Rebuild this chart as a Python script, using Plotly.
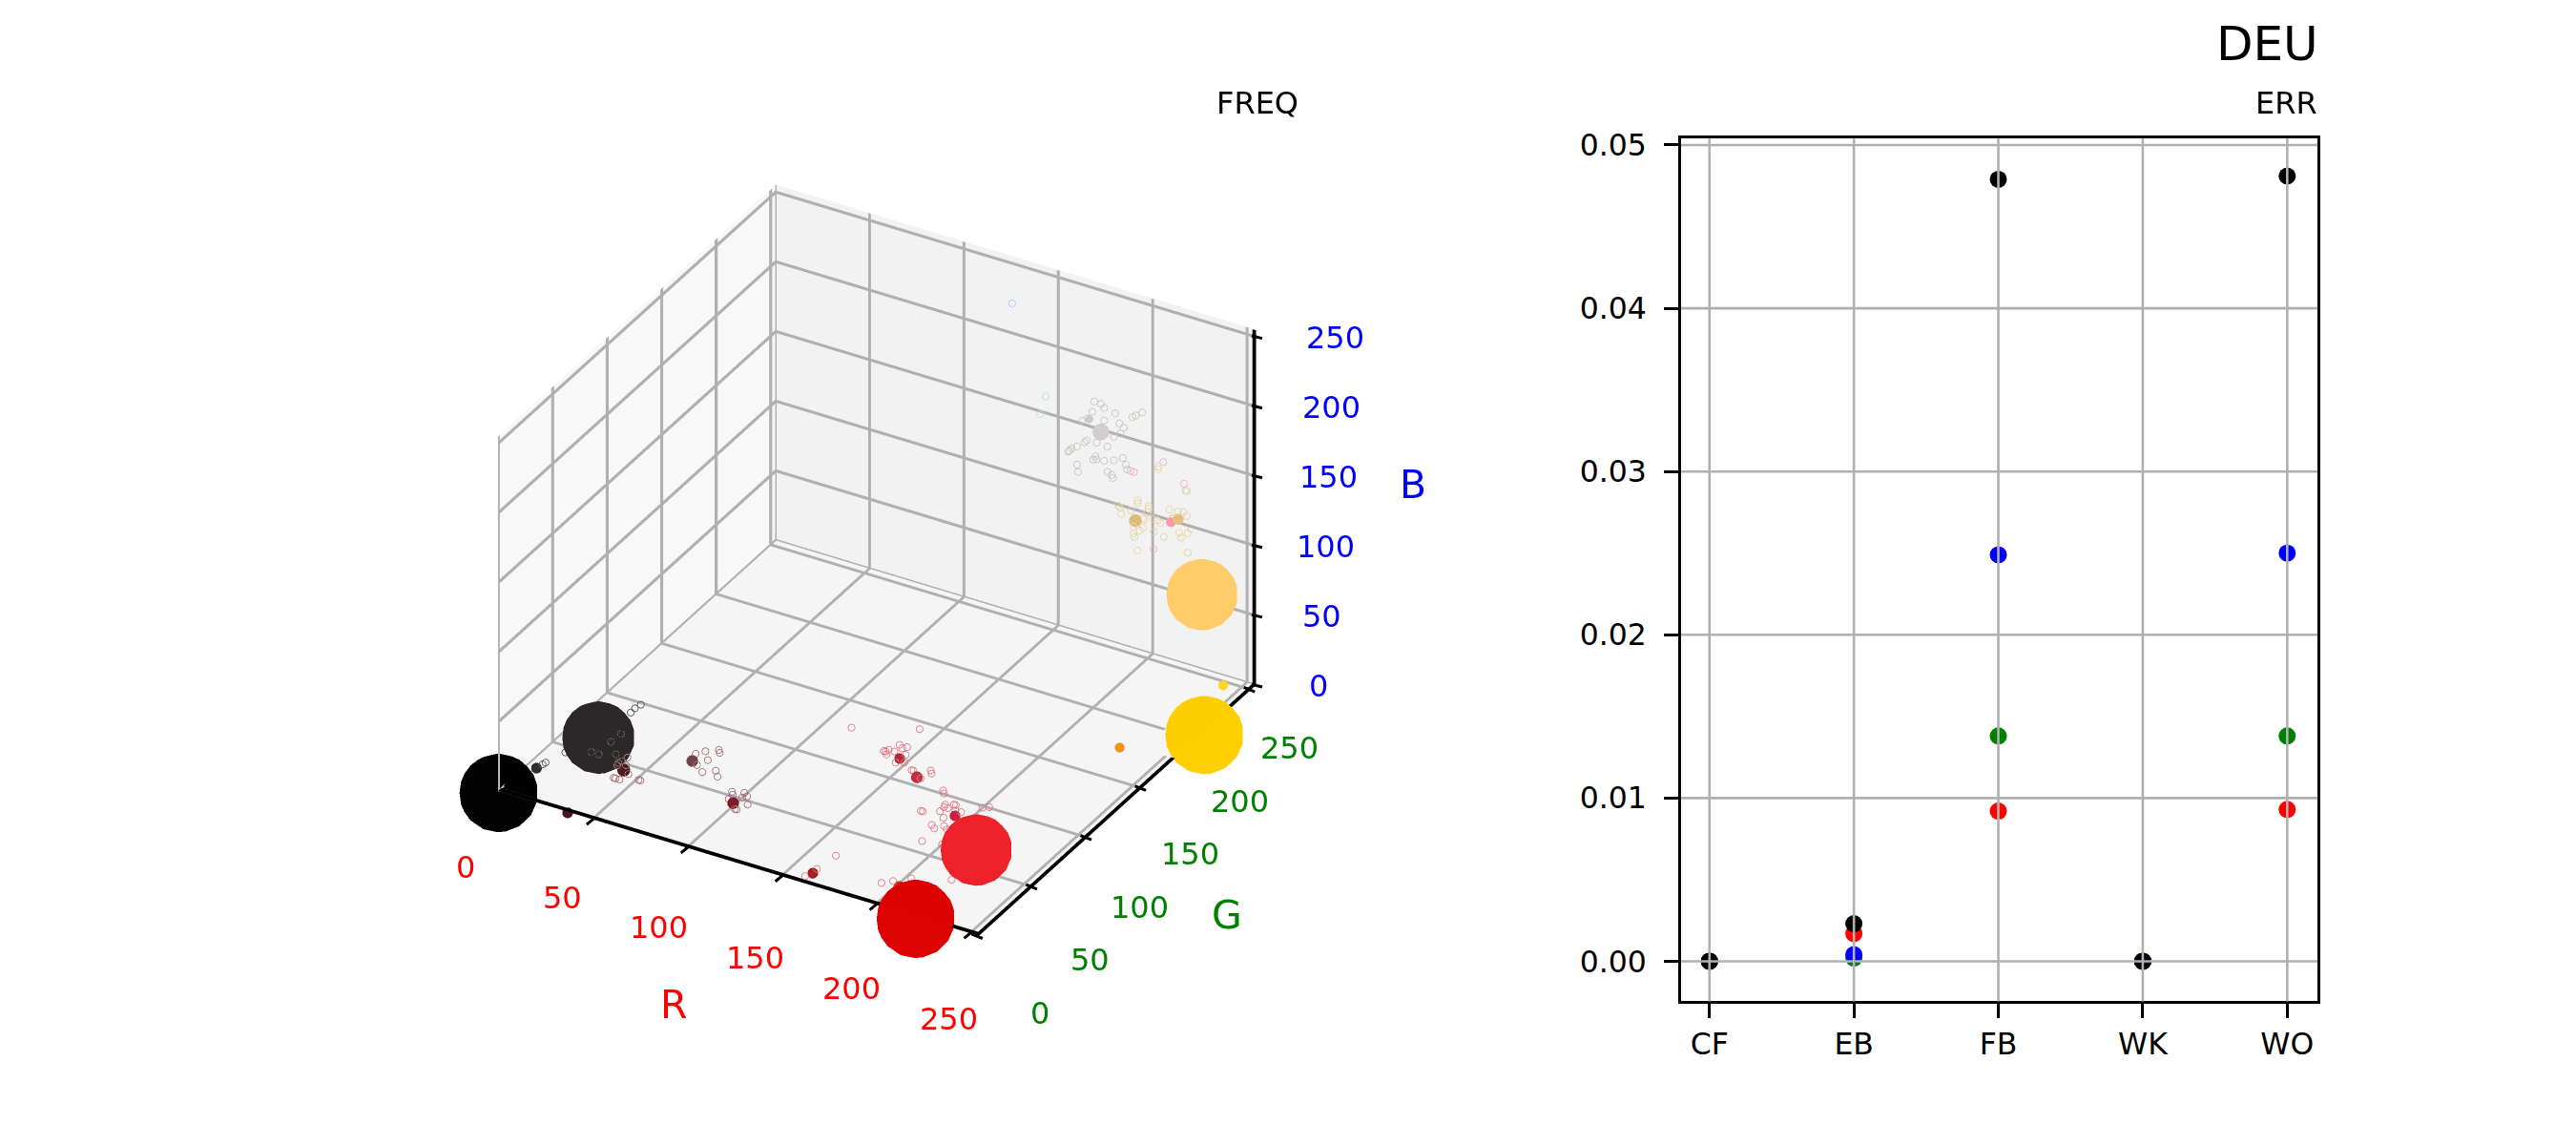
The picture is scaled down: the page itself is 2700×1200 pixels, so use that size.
import math
import plotly.graph_objects as go

# ---------- 3D panel data (FREQ) ----------
ball_r = [0, 35, 221, 255, 255, 237]
ball_g = [0, 31, 0, 206, 204, 28]
ball_b = [0, 32, 0, 0, 102, 36]
ball_freq = [80, 74, 80, 80, 73, 73]
ball_colors = ["#000000", "#2a2627", "#dd0000", "#ffce00", "#fecd69", "#ee2029"]

med_r = [13, 37, 54, 84, 112, 164, 201, 180, 192, 218, 240, 255, 204, 194, 220, 255, 245]
med_g = [13, 0, 22, 33, 22, 5, 20, 57, 52, 42, 155, 224, 200, 207, 204, 176, 200]
med_b = [13, 0, 22, 33, 22, 5, 0, 57, 52, 42, 20, 22, 200, 200, 140, 173, 154]
med_freq = [11, 11, 13, 12, 12, 11, 11, 11, 12, 11, 10, 10, 17, 8, 13, 10, 11]
med_colors = ["#2c2c2c", "#4a1018", "#4a1a1e", "#6e4440", "#7f1a24", "#a81c1c", "#c42c14", "#b12738",
              "#bb2c3e", "#c9213c", "#f09114", "#ffd71e", "#d2ccd0", "#c4cfca", "#dcbb78",
              "#ff98a8", "#e6c07a"]

dark_r = [48, 46, 45, 23, 26, 28, 30, 16, 15, 42, 45, 47, 39, 35]
dark_g = [48, 46, 44, 22, 26, 27, 29, 16, 15, 31, 35, 27, 25, 25]
dark_b = [48, 46, 44, 22, 26, 27, 29, 16, 15, 31, 35, 27, 25, 25]

maroon_r = [84, 88, 94, 95, 91, 87, 91, 97, 99, 109, 110, 115, 117, 109, 109, 115, 119, 114, 115,
            50, 51, 54, 50, 57, 51, 52, 54, 63, 64, 53]
maroon_g = [36, 38, 40, 39, 35, 32, 30, 32, 30, 26, 25, 27, 26, 23, 23, 25, 23, 20, 20,
            24, 25, 24, 23, 21, 18, 18, 18, 20, 20, 27]
maroon_b = [36, 38, 40, 39, 35, 32, 30, 32, 30, 26, 25, 27, 26, 23, 23, 25, 23, 20, 20,
            24, 25, 24, 23, 21, 18, 18, 18, 20, 20, 27]

red_r = [151, 183, 171, 172, 173, 173, 176, 177, 179, 181, 182, 183, 179, 188, 189, 197, 198, 194,
         207, 208, 211, 211, 213, 215, 216, 217, 210, 201, 202, 213, 209, 211, 215, 217, 208, 218,
         229, 232, 220, 230, 211, 203, 198, 165, 161, 171]
red_g = [63, 70, 58, 58, 59, 57, 59, 62, 61, 62, 59, 56, 55, 54, 54, 56, 55, 52,
         50, 49, 45, 44, 44, 46, 46, 44, 42, 40, 40, 40, 36, 35, 37, 36, 29, 30,
         48, 49, 44, 18, 14, 11, 9, 7, 3, 14]
red_b = [63, 70, 58, 58, 59, 57, 59, 62, 61, 62, 59, 56, 55, 54, 54, 56, 55, 52,
         50, 49, 45, 44, 44, 46, 46, 44, 42, 40, 40, 40, 36, 35, 37, 36, 29, 30,
         48, 49, 44, 18, 14, 11, 9, 7, 3, 14]

grey_r = [204] * 36
grey_g = [194, 200, 203, 192, 213, 229, 232, 238, 188, 183, 203, 217, 221, 218, 212, 206, 196, 187,
          185, 178, 173, 171, 170, 195, 193, 196, 203, 212, 220, 223, 224, 178, 179, 206, 210, 211]
grey_b = [226, 220, 215, 220, 204, 190, 189, 187, 218, 220, 206, 194, 188, 186, 188, 185, 195, 203,
          203, 205, 207, 207, 207, 186, 185, 183, 177, 171, 167, 160, 156, 192, 186, 167, 162, 159]

tan_r = [220] * 37
tan_g = [225, 225, 250, 251, 206, 206, 216, 216, 188, 190, 191, 200, 215, 211, 220, 224, 227, 211,
         208, 202, 221, 202, 203, 235, 243, 248, 238, 238, 251, 255, 252, 246, 244, 252, 206, 212, 230]
tan_b = [164, 162, 129, 128, 153, 151, 142, 140, 162, 159, 154, 150, 138, 137, 130, 126, 122, 130,
         130, 137, 120, 132, 129, 126, 119, 115, 118, 117, 110, 98, 97, 98, 103, 83, 117, 135, 110]

pink_r = [255, 255, 255, 255, 255]
pink_g = [139, 142, 169, 188, 160]
pink_b = [236, 233, 221, 192, 165]

green_r = [169, 166]
green_g = [210, 210]
green_b = [204, 190]

blue_r = [146]
blue_g = [219]
blue_b = [255]

open_groups = [
    (dark_r, dark_g, dark_b, "#4a4040"),
    (maroon_r, maroon_g, maroon_b, "#a0646a"),
    (red_r, red_g, red_b, "#e07078"),
    (grey_r, grey_g, grey_b, "#c6c2bd"),
    (tan_r, tan_g, tan_b, "#e8d2a4"),
    (pink_r, pink_g, pink_b, "#f4aabe"),
    (green_r, green_g, green_b, "#bedcd2"),
    (blue_r, blue_g, blue_b, "#b4c4fa"),
]

tick3d = [0, 50, 100, 150, 200, 250]
TOP = 255

# ---------- right panel data (ERR) ----------
codes = ["CF", "EB", "FB", "WK", "WO"]
err_red = [0, 0.0017, 0.0092, 0, 0.0093]
err_green = [0, 0.0002, 0.0138, 0, 0.0138]
err_blue = [0, 0.0004, 0.0249, 0, 0.0250]
err_black = [0, 0.0023, 0.0479, 0, 0.0481]
err_ticks = [0, 0.01, 0.02, 0.03, 0.04, 0.05]

SIZE_K = 1.19
OPEN_SIZE = 4.5
FONT = "DejaVu Sans"
GRID = "#b0b0b0"
FLAT = dict(ambient=1, diffuse=0, specular=0, roughness=1, fresnel=0)
EYE_DIST = 5.075
ELEV = math.radians(31.5)
AZIM = math.radians(-60)
CENTER_Z = -0.028
LIFT = 0.3
SOLID = 0.99

fig = go.Figure()


class Ribbons:
    """Flat rectangles in a pane plane: WebGL lines stay 1px wide in this browser."""

    def __init__(self):
        self.x, self.y, self.z, self.i, self.j, self.k = [], [], [], [], [], []

    def quad(self, p, q, w):
        n = len(self.x)
        for a, b, c in [p, q, (q[0] + w[0], q[1] + w[1], q[2] + w[2]), (p[0] + w[0], p[1] + w[1], p[2] + w[2])]:
            self.x.append(a); self.y.append(b); self.z.append(c)
        self.i += [n, n]; self.j += [n + 1, n + 2]; self.k += [n + 2, n + 3]

    def trace(self, color):
        return go.Mesh3d(x=self.x, y=self.y, z=self.z, i=self.i, j=self.j, k=self.k, color=color,
                         flatshading=True, lighting=FLAT, hoverinfo="skip", showscale=False)


grid = Ribbons()
for t in tick3d:
    # floor: gridlines stop where the gold ball sits on top of them
    if t == 250:
        grid.quad((t - 0.8, 0, LIFT), (t - 0.8, 180, LIFT), (1.6, 0, 0))
        grid.quad((t - 0.8, 232, LIFT), (t - 0.8, TOP, LIFT), (1.6, 0, 0))
    else:
        grid.quad((t - 0.8, 0, LIFT), (t - 0.8, TOP, LIFT), (1.6, 0, 0))
    if t == 200:
        grid.quad((0, t - 1.1, LIFT), (238, t - 1.1, LIFT), (0, 2.2, 0))
    elif t != 0:
        grid.quad((0, t - 1.1, LIFT), (TOP, t - 1.1, LIFT), (0, 2.2, 0))
    # left wall (R = 0)
    grid.quad((LIFT, t - 1.4, 0), (LIFT, t - 1.4, TOP), (0, 2.8, 0))
    grid.quad((LIFT, 0, t - 1.45), (LIFT, TOP, t - 1.45), (0, 0, 2.9))
    # back wall (G = max)
    grid.quad((t - 0.75, TOP - LIFT, 0), (t - 0.75, TOP - LIFT, TOP), (1.5, 0, 0))
    grid.quad((0, TOP - LIFT, t - 1.1), (TOP, TOP - LIFT, t - 1.1), (0, 0, 2.2))
fig.add_trace(grid.trace(GRID))

# black axis lines, with gaps where the nearest big balls sit on top of them
spines = Ribbons()
spines.quad((0, 0, 0.6), (202, 0, 0.6), (0, 2.9, 0))
spines.quad((240, 0, 0.6), (TOP, 0, 0.6), (0, 2.9, 0))
spines.quad((TOP - 2.1, 0, 0.6), (TOP - 2.1, 180, 0.6), (2.1, 0, 0))
spines.quad((TOP - 2.1, 232, 0.6), (TOP - 2.1, TOP, 0.6), (2.1, 0, 0))
spines.quad((TOP - 2, TOP - 0.6, 0), (TOP - 2, TOP - 0.6, TOP), (2, 0, 0))
fig.add_trace(spines.trace("#000000"))

for r, g, b, c in open_groups:
    fig.add_trace(go.Scatter3d(x=r, y=g, z=b, mode="markers", hoverinfo="skip",
                               marker=dict(size=OPEN_SIZE, symbol="circle-open", color=c, opacity=1)))
fig.add_trace(go.Scatter3d(x=med_r, y=med_g, z=med_b, mode="markers", hoverinfo="skip",
                           marker=dict(size=[s * SIZE_K for s in med_freq], color=med_colors, opacity=SOLID,
                                       line=dict(width=0))))
fig.add_trace(go.Scatter3d(x=ball_r, y=ball_g, z=ball_b, mode="markers", hoverinfo="skip",
                           marker=dict(size=[s * SIZE_K for s in ball_freq], color=ball_colors, opacity=SOLID,
                                       line=dict(width=0))))

xpos = list(range(len(codes)))
for vals, col in [(err_red, "#ff0000"), (err_green, "#008000"), (err_blue, "#0000ff"), (err_black, "#000000")]:
    fig.add_trace(go.Scatter(x=xpos, y=vals, mode="markers", hoverinfo="skip",
                             marker=dict(size=18, color=col, line=dict(width=0))))


def ax3d(bg):
    return dict(
        title=dict(text=""), range=[0, TOP], autorange=False,
        showticklabels=False, ticks="", showline=False, showgrid=False,
        zeroline=False, showspikes=False,
        showbackground=True, backgroundcolor=bg,
    )


def label3d(x, y, z, text, color, size, dx, dy):
    return dict(x=x, y=y, z=z, text=text, showarrow=False, xshift=dx, yshift=-dy,
                xanchor="center", yanchor="middle",
                font=dict(family=FONT, size=size, color=color))


def tick_mark(x, y, z, sx, sy, ax, ay):
    return dict(x=x, y=y, z=z, text=" ", showarrow=True, arrowhead=0, arrowwidth=3, arrowcolor="#000000",
                ax=ax, ay=ay, xshift=sx, yshift=-sy, standoff=0, startstandoff=0)


scene_ann = []
for t in tick3d:
    f = t / 250
    scene_ann.append(label3d(t, 0, 0, str(t), "#ff0000", 32, -33.7 + 12 * f, 79 + 10 * f))
    scene_ann.append(label3d(TOP, t, 0, str(t), "#008000", 32, 64.3 - 24 * f, 80 - 19 * f))
    scene_ann.append(label3d(TOP, TOP, t, str(t), "#0000ff", 32, 65.3 + 17 * f, 1))
    if t != 0:  # hidden behind the black ball
        scene_ann.append(tick_mark(t, 0, 0, -5.5, 4.5, 11, -9))
    if t != 200:  # hidden behind the gold ball
        scene_ann.append(tick_mark(TOP, t, 0, -7.5, -3, 15, 6))
    scene_ann.append(tick_mark(TOP, TOP, t, -5, -1, 14.5, 3.5))
scene_ann.append(label3d(125, 0, 0, "R", "#ff0000", 41, -62, 149))
scene_ann.append(label3d(TOP, 125, 0, "G", "#008000", 41, 117, 106))
scene_ann.append(label3d(TOP, TOP, 125, "B", "#0000ff", 41, 164, -28))

shapes = []
for t in err_ticks:
    shapes.append(dict(type="line", xref="x domain", yref="y", x0=0, x1=1, y0=t, y1=t,
                       line=dict(color=GRID, width=2.6), layer="above"))
for p in xpos:
    shapes.append(dict(type="line", xref="x", yref="y domain", x0=p, x1=p, y0=0, y1=1,
                       line=dict(color=GRID, width=2.6), layer="above"))

fig.update_layout(
    width=2700, height=1200, margin=dict(l=0, r=0, t=0, b=0),
    paper_bgcolor="white", plot_bgcolor="white", showlegend=False,
    font=dict(family=FONT, color="black"),
    scene=dict(
        domain=dict(x=[0, 0.675], y=[0.02, 1]),
        aspectmode="manual", aspectratio=dict(x=1, y=1, z=0.75),
        camera=dict(eye=dict(x=EYE_DIST * math.cos(ELEV) * math.cos(AZIM),
                             y=EYE_DIST * math.cos(ELEV) * math.sin(AZIM),
                             z=EYE_DIST * math.sin(ELEV) + CENTER_Z),
                    center=dict(x=0, y=0, z=CENTER_Z), up=dict(x=0, y=0, z=1),
                    projection=dict(type="orthographic")),
        xaxis=ax3d("#f8f8f8"), yaxis=ax3d("#f2f2f2"), zaxis=ax3d("#f5f5f5"),
        annotations=scene_ann,
    ),
    xaxis=dict(domain=[0.6496, 0.8967], range=[-0.197, 4.21],
               tickmode="array", tickvals=xpos, ticktext=codes,
               ticks="outside", ticklen=15, tickwidth=2.6, tickcolor="black",
               tickfont=dict(family=FONT, size=31.5, color="black"),
               showgrid=False, zeroline=False, showline=True, linecolor="black", linewidth=2.6, mirror=True),
    yaxis=dict(domain=[0.1334, 0.8939], range=[-0.00245, 0.0504],
               tickmode="array", tickvals=err_ticks, ticktext=[f"{t:.2f}" for t in err_ticks],
               ticks="outside", ticklen=15, tickwidth=2.6, tickcolor="black", ticklabelstandoff=12,
               tickfont=dict(family=FONT, size=31.5, color="black"),
               showgrid=False, zeroline=False, showline=True, linecolor="black", linewidth=2.6, mirror=True),
    shapes=shapes,
    annotations=[
        dict(text="DEU", xref="paper", yref="paper", x=2424 / 2700, y=1 - 27 / 1200, xanchor="right", yanchor="middle",
             showarrow=False, font=dict(family=FONT, size=50, color="black")),
        dict(text="ERR", xref="paper", yref="paper", x=2423 / 2700, y=1 - 89.5 / 1200, xanchor="right", yanchor="middle",
             showarrow=False, font=dict(family=FONT, size=32, color="black")),
        dict(text="FREQ", xref="paper", yref="paper", x=1354.5 / 2700, y=1 - 89.5 / 1200, xanchor="right", yanchor="middle",
             showarrow=False, font=dict(family=FONT, size=32, color="black")),
    ],
)

fig.write_html("out.html")
